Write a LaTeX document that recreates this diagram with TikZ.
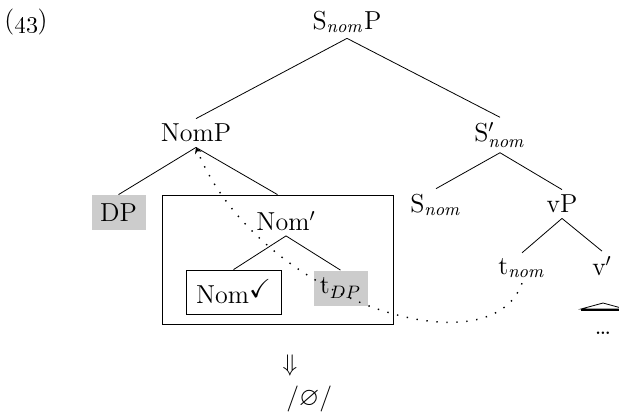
\documentclass[tikz,border=0pt]{standalone}
\usepackage{amsmath,amssymb}
\usetikzlibrary{arrows.meta,positioning}

\begin{document}
\begin{tikzpicture}[x=0.5pt,y=-0.5pt,
 lab/.style={inner sep=2.5pt,font=\fontsize{13}{15}\selectfont},
 hl/.style={lab,fill=gray!40,minimum width=27pt,minimum height=17.5pt},
 bx/.style={lab,draw,thin},
 >={Stealth[length=3pt,width=3.5pt]}]
\useasboundingbox (0,0) rectangle (619,414);
\node[lab] (ex) at (26,22) {(\oldstylenums{43})};
\node[lab] (snomp) at (347,22) {S$_{\mathit{nom}}$P};
\node[lab] (nomp) at (196,133) {NomP};
\node[lab] (sbar) at (500,135) {S$'_{\mathit{nom}}$};
\node[hl] (dp) at (118.5,212.5) {DP};
\node[bx,minimum width=115.5pt,minimum height=64.5pt] (bigbox) at (277.5,259.5) {};
\node[lab] (nombar) at (286,221) {Nom$'$};
\node[bx,minimum width=47.5pt,minimum height=22pt] (nomchk) at (233.5,292) {Nom\raisebox{3pt}{$\checkmark$}};
\node[hl] (tdp) at (340.5,288) {t$_{DP}$};
\node[lab] (snom) at (436,205) {S$_{\mathit{nom}}$};
\node[lab] (vp) at (562,204) {vP};
\node[lab] (tnom) at (522,268) {t$_{\mathit{nom}}$};
\node[lab] (vbar) at (602,266) {v$'$};
\coordinate (tri) at (603,303);
\node[lab] (dots) at (603,333) {\dots};
\node[lab] (dnarrow) at (290,365) {$\Downarrow$};
\node[lab,anchor=west] (zero) at (281,399) {/$\varnothing$/};
\draw[thin] (snomp.south) -- (nomp.north);
\draw[thin] (snomp.south) -- (sbar.north);
\draw[thin] (nomp.south) -- (dp.north);
\draw[thin] (nomp.south) -- (bigbox.north);
\draw[thin] (nombar.south) -- (nomchk.north);
\draw[thin] (nombar.south) -- (tdp.north);
\draw[thin] (sbar.south) -- (snom.north);
\draw[thin] (sbar.south) -- (vp.north);
\draw[thin] (vp.south) -- (tnom.north);
\draw[thin] (vp.south) -- (vbar.north);
\draw[thin] (tri) -- ++(-22,6) -- ++(44,0) -- cycle;
\draw[line width=0.8pt] ([xshift=-11pt,yshift=-3.5pt]tri) -- ++(22pt,0);
\draw[->,line width=0.7pt,dash pattern=on 0.7pt off 4.3pt] (tnom.south) .. controls +(-32,90) and +(62,152) .. (nomp.south);
\end{tikzpicture}
\end{document}
